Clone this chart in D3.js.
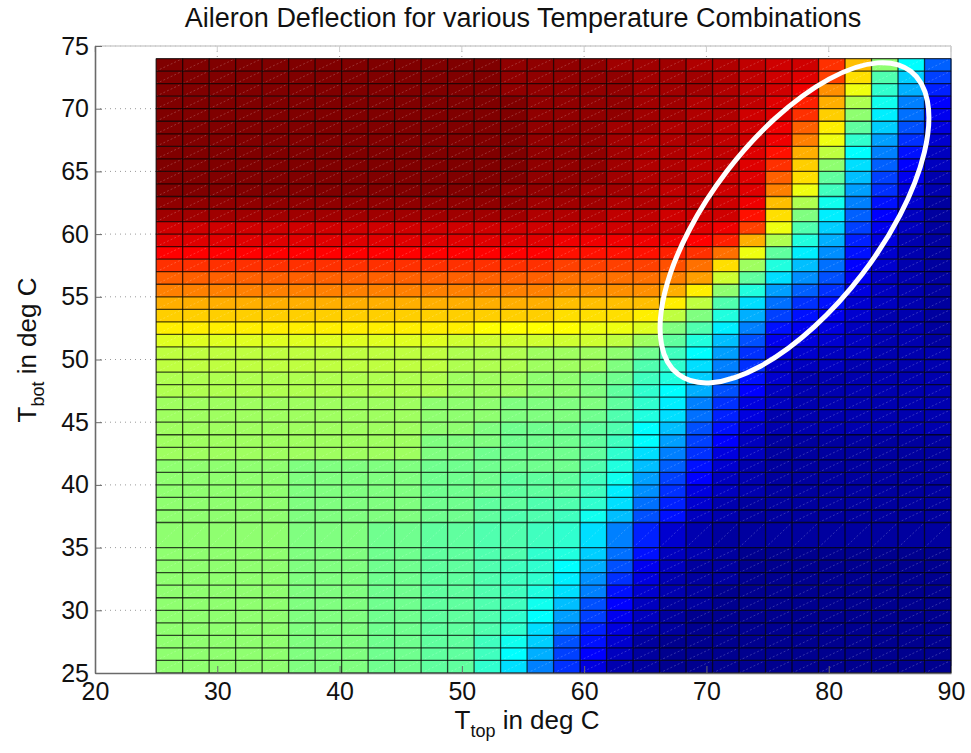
<!DOCTYPE html>
<html><head><meta charset="utf-8">
<script src="https://cdn.jsdelivr.net/npm/d3@7"></script>
<style>body{margin:0;background:#fff} svg{display:block} text{font-family:"Liberation Sans",Arial,Helvetica,sans-serif;fill:#111}</style>
</head><body><svg id="chart" width="971" height="753"></svg>
<script>
const titleText = "Aileron Deflection for various Temperature Combinations";
const xTicks = [20,30,40,50,60,70,80,90];
const yTicks = [25,30,35,40,45,50,55,60,65,70,75];
// T_top cell edges (deg C)
const tTopEdges = [25,27.1667,29.3333,31.5,33.6667,35.8333,38,40.1667,42.3333,44.5,46.6667,48.8333,51,53.1667,55.3333,57.5,59.6667,61.8333,64,66.1667,68.3333,70.5,72.6667,74.8333,77,79.1667,81.3333,83.5,85.6667,87.8333,90];
// T_bot cell edges (deg C), ascending
const tBotEdges = [25,26,27,28,29,30,31,32,33,34,35,37,38,39,40,41,42,43,44,45,46,47,48,49,50,51,52,53,54,55,56,57,58,59,60,61,62,63,64,65,66,67,68,69,70,71,72,73,74];
// colour level (jet 64 index) per cell, rows listed from top (T_bot 73-74) to bottom (25-26)
const levels = [
[63,63,63,63,63,63,63,63,63,63,63,63,63,62,62,62,62,61,61,61,60,60,59,58,58,52,43,32,23,13],
[63,63,63,63,63,63,63,63,63,63,63,63,63,62,62,62,62,62,61,61,61,60,59,58,57,51,41,28,20,11],
[63,63,63,63,63,63,63,63,63,63,63,63,63,62,62,62,62,62,61,61,61,60,59,58,56,46,38,26,18,9],
[63,63,63,63,63,63,63,63,63,63,63,63,63,63,62,62,62,62,61,61,60,60,59,57,53,44,34,24,15,7],
[63,63,63,63,63,63,63,63,63,63,63,63,63,63,62,62,62,62,61,61,60,60,58,57,52,42,32,22,14,6],
[63,63,63,63,63,63,63,63,63,63,63,63,63,63,62,62,62,61,61,60,60,59,58,56,49,40,29,20,12,5],
[63,63,63,63,63,63,63,63,63,63,63,63,63,63,62,62,62,61,60,60,60,59,58,56,47,38,26,17,10,4],
[63,63,63,63,63,63,63,63,63,63,63,63,63,63,62,62,62,61,60,60,59,59,57,54,44,35,23,15,8,3],
[63,63,63,63,63,63,63,63,63,63,63,63,63,63,62,62,62,61,60,60,59,59,57,52,42,32,21,13,7,3],
[63,63,63,63,63,63,63,63,63,63,63,63,63,63,62,62,62,61,60,60,59,58,57,49,41,29,19,11,6,2],
[63,63,63,63,63,63,63,63,63,63,63,63,63,62,62,62,61,61,60,59,59,58,57,47,38,27,17,10,5,2],
[62,62,62,62,62,62,62,62,62,62,62,62,62,62,61,61,61,60,60,59,59,58,56,43,34,24,15,8,4,1],
[61,61,61,61,61,61,61,61,61,61,61,61,61,61,60,60,60,59,59,58,58,58,54,41,31,22,13,7,3,1],
[58,58,58,58,58,58,58,58,58,58,58,58,58,58,58,58,58,58,58,58,57,56,51,38,28,20,11,6,3,1],
[57,57,57,57,57,57,57,57,57,57,57,57,57,57,57,56,56,56,56,56,55,53,44,34,25,18,9,5,2,1],
[55,55,55,55,55,55,55,55,55,55,55,55,55,55,55,54,54,54,54,53,52,48,38,29,22,16,8,4,2,1],
[52,52,52,52,52,52,52,52,52,52,52,52,52,52,52,51,51,51,51,50,48,41,33,25,19,14,7,4,2,1],
[49,49,49,49,49,49,49,49,49,49,49,49,49,49,49,48,48,48,48,47,45,36,29,21,16,12,6,3,2,1],
[47,47,47,47,47,47,47,47,47,47,47,47,47,47,47,46,46,46,46,44,40,32,25,17,13,10,5,3,2,1],
[44,44,44,44,44,44,44,44,44,44,44,44,44,44,44,43,43,43,43,40,35,28,21,14,10,8,4,3,2,1],
[42,42,42,42,42,42,42,42,42,42,42,42,42,42,42,41,41,41,40,35,31,25,18,11,8,6,4,2,2,1],
[40,40,40,40,40,40,40,40,40,40,40,40,39,39,39,39,38,38,37,31,28,22,15,8,6,5,3,2,2,1],
[37,37,37,37,37,37,37,37,37,37,37,36,36,36,36,36,36,35,33,29,25,19,12,6,5,4,3,2,2,1],
[35,35,35,35,35,35,35,35,35,35,35,34,34,34,33,33,33,32,30,27,23,17,10,5,4,3,3,2,2,2],
[35,35,35,35,35,35,35,35,35,35,35,34,34,34,33,33,33,31,28,26,21,15,10,4,3,3,2,2,2,2],
[34,34,34,34,34,34,34,34,34,34,34,33,33,33,32,32,31,30,27,25,20,14,8,4,2,2,2,2,2,2],
[34,34,34,34,34,34,34,34,34,34,34,33,33,33,32,32,31,29,26,23,18,12,7,3,2,2,2,2,2,2],
[33,33,33,33,33,33,33,33,33,33,32,32,32,31,31,31,31,29,26,22,15,10,5,3,2,2,2,2,2,2],
[33,33,33,33,33,33,33,33,33,33,32,32,32,31,31,31,30,28,25,21,14,9,5,2,2,2,2,2,2,2],
[33,33,33,33,33,33,33,33,33,33,32,32,31,30,30,30,29,28,23,19,12,8,4,2,2,2,2,2,2,2],
[33,33,33,33,33,33,33,33,33,33,31,31,31,30,30,30,29,27,23,17,11,7,3,1,1,1,1,1,1,1],
[33,33,33,33,33,33,33,33,33,33,31,31,30,30,30,30,29,26,21,15,10,5,3,1,1,1,1,1,1,1],
[32,32,32,32,32,31,31,31,31,31,30,30,30,30,30,30,28,25,19,13,8,4,2,1,1,1,1,1,1,1],
[32,32,32,32,32,31,31,31,31,31,30,30,30,29,29,29,27,24,17,11,7,3,2,1,1,1,1,1,1,1],
[32,32,32,32,32,31,31,31,31,31,30,30,30,29,29,29,27,22,16,10,5,3,2,1,1,1,1,1,1,1],
[32,32,32,32,32,31,31,31,31,31,30,30,29,29,28,28,26,21,14,9,4,2,1,1,1,1,1,1,1,1],
[32,32,32,32,32,31,31,31,31,31,30,30,29,28,28,27,24,19,12,8,3,2,1,1,1,1,1,1,1,1],
[32,32,32,32,32,31,31,31,30,30,29,29,28,28,27,26,21,15,9,4,2,1,1,1,1,1,1,1,1,1],
[32,32,32,32,32,31,31,31,30,30,29,29,28,28,26,25,20,14,8,3,2,1,0,0,0,0,0,0,0,0],
[32,32,32,32,32,31,31,31,30,30,29,29,28,27,26,23,18,12,6,3,1,1,0,0,0,0,0,0,0,0],
[32,32,32,32,32,31,31,31,30,30,29,29,28,27,26,22,16,10,5,2,1,1,0,0,0,0,0,0,0,0],
[32,32,32,32,32,31,31,31,30,30,29,29,28,27,25,21,15,8,4,2,1,0,0,0,0,0,0,0,0,0],
[32,32,32,32,32,31,31,31,30,30,29,29,28,27,24,19,12,7,3,1,1,0,0,0,0,0,0,0,0,0],
[32,32,32,32,32,31,31,31,30,30,29,29,28,26,23,17,11,6,3,1,0,0,0,0,0,0,0,0,0,0],
[32,32,32,32,32,31,31,31,30,30,29,29,28,26,21,15,9,5,2,1,0,0,0,0,0,0,0,0,0,0],
[32,32,32,32,32,31,31,31,30,30,29,29,27,24,20,12,8,4,1,0,0,0,0,0,0,0,0,0,0,0],
[32,32,32,32,32,31,31,31,30,30,29,29,27,23,18,11,7,3,1,0,0,0,0,0,0,0,0,0,0,0],
[32,32,32,32,32,31,31,31,30,30,29,29,26,21,15,10,5,2,1,0,0,0,0,0,0,0,0,0,0,0]
];
// annotation ellipse centre (deg C)
const highlight = {tTop: 77.2, tBot: 60.9};

const svg = d3.select("#chart");
const x = d3.scaleLinear().domain([20, 90]).range([95, 951]);
const y = d3.scaleLinear().domain([25, 75]).range([673, 46]);
const jet = d3.scaleLinear()
  .domain([0, 7, 23, 39, 55, 63])
  .range(["rgb(0,0,143)", "rgb(0,0,255)", "rgb(0,255,255)", "rgb(255,255,0)", "rgb(255,0,0)", "rgb(128,0,0)"])
  .interpolate(d3.interpolateRgb);

// dotted grid
const grid = svg.append("g");
grid.selectAll("line.gy").data(yTicks.slice(1)).join("line")
  .attr("x1", x(20)).attr("x2", x(90)).attr("y1", d => y(d)).attr("y2", d => y(d))
  .attr("stroke", "#9a9a9a").attr("stroke-width", 1).attr("stroke-dasharray", "1,4");
grid.selectAll("line.gx").data(xTicks.slice(1, -1)).join("line")
  .attr("x1", d => x(d)).attr("x2", d => x(d)).attr("y1", y(75)).attr("y2", y(25))
  .attr("stroke", "#9a9a9a").attr("stroke-width", 1).attr("stroke-dasharray", "1,4");
// light box (top & right)
svg.append("line").attr("x1", x(20)).attr("x2", x(90)).attr("y1", y(75)).attr("y2", y(75)).attr("stroke", "#cfcfcf").attr("stroke-width", 1.5);
svg.append("line").attr("x1", x(90)).attr("x2", x(90)).attr("y1", y(75)).attr("y2", y(25)).attr("stroke", "#cfcfcf").attr("stroke-width", 1.5);
svg.append("g").selectAll("line").data(xTicks).join("line")
  .attr("x1", d => x(d)).attr("x2", d => x(d)).attr("y1", y(75)).attr("y2", y(75) + 6).attr("stroke", "#cfcfcf");

// surface cells
const nRows = levels.length;
const cells = [];
levels.forEach((row, i) => {
  const lo = tBotEdges[nRows - 1 - i], hi = tBotEdges[nRows - i];
  row.forEach((v, j) => cells.push({x0: tTopEdges[j], x1: tTopEdges[j + 1], y0: lo, y1: hi, v}));
});
const surf = svg.append("g");
surf.selectAll("rect").data(cells).join("rect")
  .attr("x", d => x(d.x0)).attr("y", d => y(d.y1))
  .attr("width", d => x(d.x1) - x(d.x0) + 0.3).attr("height", d => y(d.y0) - y(d.y1) + 0.3)
  .attr("fill", d => jet(d.v));
surf.selectAll("line.diag").data(cells).join("line").attr("class", "diag")
  .attr("x1", d => x(d.x0)).attr("y1", d => y(d.y0)).attr("x2", d => x(d.x1)).attr("y2", d => y(d.y1))
  .attr("stroke", "#fff").attr("stroke-opacity", 0.25).attr("stroke-width", 0.8).attr("stroke-dasharray", "2,2");
surf.selectAll("line.ev").data(tTopEdges).join("line").attr("class", "ev")
  .attr("x1", d => x(d)).attr("x2", d => x(d)).attr("y1", y(tBotEdges[0])).attr("y2", y(tBotEdges[tBotEdges.length - 1]))
  .attr("stroke", "#000").attr("stroke-opacity", 0.72).attr("stroke-width", 1.3);
surf.selectAll("line.eh").data(tBotEdges).join("line").attr("class", "eh")
  .attr("x1", x(tTopEdges[0])).attr("x2", x(tTopEdges[tTopEdges.length - 1])).attr("y1", d => y(d)).attr("y2", d => y(d))
  .attr("stroke", "#000").attr("stroke-opacity", 0.72).attr("stroke-width", 1.3);

// axes
const yAxis = svg.append("g").attr("transform", `translate(${x(20)},0)`)
  .call(d3.axisLeft(y).tickValues(yTicks).tickSizeInner(-7).tickSizeOuter(0).tickPadding(6));
const xAxis = svg.append("g").attr("transform", `translate(0,${y(25)})`)
  .call(d3.axisBottom(x).tickValues(xTicks).tickSizeInner(-7).tickSizeOuter(0).tickPadding(9));
[yAxis, xAxis].forEach(a => {
  a.select(".domain").attr("stroke", "#6a6a6a").attr("stroke-width", 1.6);
  a.selectAll(".tick line").attr("stroke", "#6a6a6a");
  a.selectAll(".tick text").attr("font-size", 25).attr("font-family", "Liberation Sans, Arial, sans-serif").attr("fill", "#111");
});

// annotation ellipse
const ecx = x(highlight.tTop), ecy = y(highlight.tBot);
svg.append("ellipse").attr("cx", ecx).attr("cy", ecy).attr("rx", 191).attr("ry", 85)
  .attr("transform", `rotate(-52.5,${ecx},${ecy})`)
  .attr("fill", "none").attr("stroke", "#fff").attr("stroke-width", 5);

// title
svg.append("text").attr("x", (x(20) + x(90)) / 2).attr("y", 27).attr("text-anchor", "middle")
  .attr("font-size", 27).text(titleText);

// x label
const xl = svg.append("text").attr("x", 527).attr("y", 729).attr("text-anchor", "middle").attr("font-size", 26);
xl.append("tspan").text("T");
xl.append("tspan").attr("font-size", 18).attr("dy", 8).text("top");
xl.append("tspan").attr("dy", -8).text(" in deg C");

// y label
const yl = svg.append("text").attr("transform", "translate(36,350) rotate(-90)").attr("text-anchor", "middle").attr("font-size", 26);
yl.append("tspan").text("T");
yl.append("tspan").attr("font-size", 18).attr("dy", 8).text("bot");
yl.append("tspan").attr("dy", -8).text(" in deg C");
</script></body></html>
